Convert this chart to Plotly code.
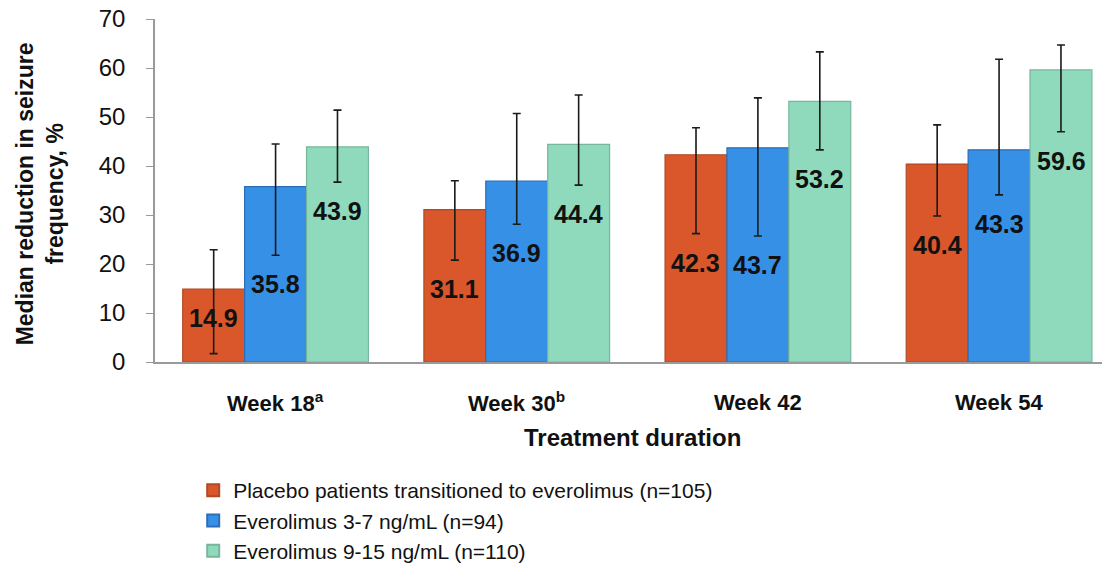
import plotly.graph_objects as go

categories = ["Week 18", "Week 30", "Week 42", "Week 54"]
tick_labels = ["Week 18<sup>a</sup>", "Week 30<sup>b</sup>", "Week 42", "Week 54"]

series_names = [
    "Placebo patients transitioned to everolimus (n=105)",
    "Everolimus 3-7 ng/mL (n=94)",
    "Everolimus 9-15 ng/mL (n=110)",
]
placebo = [14.9, 31.1, 42.3, 40.4]
low_dose = [35.8, 36.9, 43.7, 43.3]
high_dose = [43.9, 44.4, 53.2, 59.6]

placebo_upper = [22.9, 37.0, 47.8, 48.4]
placebo_lower = [1.7, 20.8, 26.2, 29.8]
low_upper = [44.5, 50.7, 53.9, 61.8]
low_lower = [21.8, 28.1, 25.7, 34.1]
high_upper = [51.4, 54.5, 63.3, 64.7]
high_lower = [36.7, 36.1, 43.3, 47.0]

colors = ["#D9572A", "#3690E6", "#8FDABD"]
edge_colors = ["#B04A25", "#2A6DB8", "#76B79C"]

FONT = "Arial, 'Liberation Sans', sans-serif"

values = [placebo, low_dose, high_dose]
uppers = [placebo_upper, low_upper, high_upper]
lowers = [placebo_lower, low_lower, high_lower]

fig = go.Figure()
for i in range(3):
    v = values[i]
    up = [u - x for u, x in zip(uppers[i], v)]
    dn = [x - l for x, l in zip(v, lowers[i])]
    fig.add_trace(go.Bar(
        name=series_names[i], x=categories, y=v,
        marker=dict(color=colors[i], line=dict(color=edge_colors[i], width=1.2)),
        error_y=dict(type="data", symmetric=False, array=up, arrayminus=dn,
                     color="#1a1a1a", thickness=1.6, width=4),
        offsetgroup=str(i),
    ))

# data labels, placed just below the lower end of each error bar
offsets = [-0.257, 0.0, 0.257]
annotations = []
for i in range(3):
    for j in range(len(categories)):
        v = values[i][j]
        lo = lowers[i][j]
        ylab = lo if lo > v * 0.3 else v
        annotations.append(dict(
            x=j + offsets[i], y=ylab, xref="x", yref="y",
            text=f"<b>{v:.1f}</b>", showarrow=False,
            xanchor="center", yanchor="top", yshift=-13,
            font=dict(family=FONT, size=25, color="#111111"),
        ))

for j, t in enumerate(tick_labels):
    annotations.append(dict(
        x=j, y=0, xref="x", yref="y", text=f"<b>{t}</b>", showarrow=False,
        yanchor="middle", yshift=-40,
        font=dict(family=FONT, size=22, color="#111111"),
    ))

annotations.append(dict(
    x=0.5, y=0, xref="paper", yref="y", text="<b>Treatment duration</b>",
    showarrow=False, yanchor="middle", yshift=-75,
    font=dict(family=FONT, size=24, color="#111111"),
))
annotations.append(dict(
    x=-0.12, y=0.49, xref="paper", yref="paper",
    text="<b>Median reduction in seizure<br>frequency, %</b>",
    showarrow=False, textangle=-90, xanchor="center", yanchor="middle",
    font=dict(family=FONT, size=23, color="#111111"),
))

fig.update_layout(
    width=1110, height=569,
    margin=dict(l=147, r=8, t=11, b=215),
    paper_bgcolor="white", plot_bgcolor="white",
    barmode="group", bargap=0.23, bargroupgap=0,
    showlegend=True,
    legend=dict(x=0.04, xref="paper", y=0.188, yref="container",
                xanchor="left", yanchor="top",
                font=dict(family=FONT, size=21, color="#111111"),
                tracegroupgap=0, itemsizing="constant", bgcolor="rgba(0,0,0,0)"),
    annotations=annotations,
    xaxis=dict(range=[-0.5, 3.46], showticklabels=False, ticks="",
               showline=True, linecolor="#9a9a9a", linewidth=1.5,
               showgrid=False, zeroline=False, automargin=False),
    yaxis=dict(range=[0, 70], dtick=10, ticks="outside", ticklen=7,
               tickcolor="#9a9a9a", showline=True, linecolor="#9a9a9a",
               linewidth=1.5, showgrid=False, zeroline=False, automargin=False,
               ticklabelstandoff=16, ticklabeloverflow="allow",
               tickfont=dict(family=FONT, size=24, color="#111111")),
)

fig.write_html("out.html")
